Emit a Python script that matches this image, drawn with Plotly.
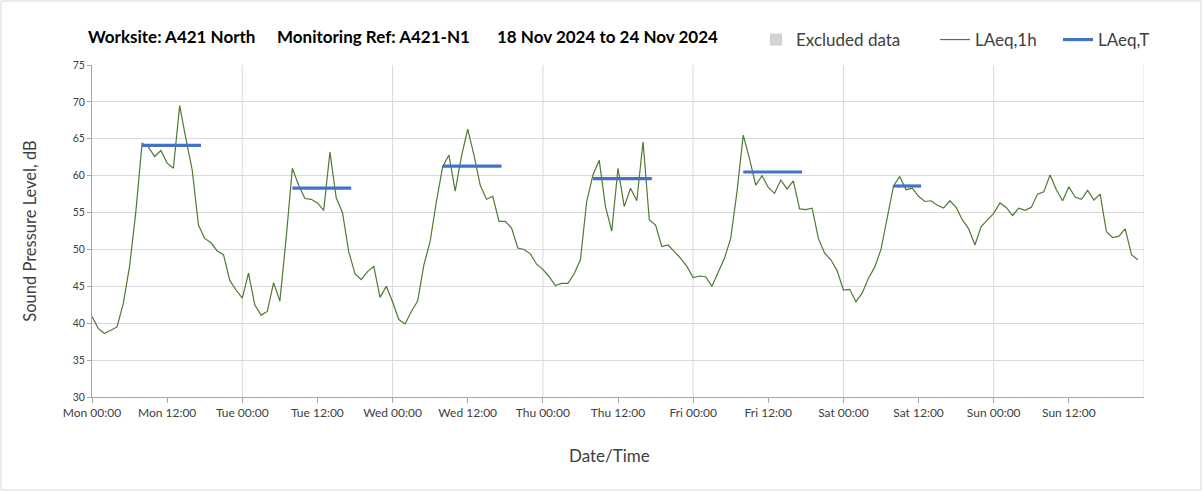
import plotly.graph_objects as go

# ---- data ----
days = ["Mon", "Tue", "Wed", "Thu", "Fri", "Sat", "Sun"]
times = ["00:00", "12:00"]

hours = list(range(168))  # hours since Mon 00:00
laeq_1h = [
    40.9, 39.3, 38.6, 39.0, 39.5, 42.7, 47.7, 55.1, 64.4, 63.9, 62.6, 63.4,
    61.7, 61.0, 69.5, 65.0, 60.8, 53.3, 51.5, 50.9, 49.8, 49.3, 45.8, 44.5,
    43.4, 46.8, 42.5, 41.1, 41.6, 45.5, 43.0, 51.5, 61.0, 58.7, 56.9, 56.8,
    56.3, 55.3, 63.2, 57.0, 55.0, 49.7, 46.7, 45.9, 47.0, 47.7, 43.5, 45.0,
    42.9, 40.5, 39.9, 41.6, 43.0, 47.9, 51.1, 56.5, 61.2, 62.8, 57.9, 62.6,
    66.3, 62.8, 58.7, 56.8, 57.2, 53.8, 53.8, 52.9, 50.2, 50.0, 49.4, 48.0,
    47.3, 46.3, 45.1, 45.4, 45.4, 46.7, 48.6, 56.5, 60.1, 62.1, 55.8, 52.5,
    61.0, 55.8, 58.3, 56.6, 64.6, 54.0, 53.3, 50.4, 50.6, 49.7, 48.8, 47.7,
    46.2, 46.4, 46.3, 45.0, 46.8, 48.8, 51.5, 57.8, 65.5, 62.3, 58.7, 60.0,
    58.4, 57.6, 59.4, 58.2, 59.3, 55.5, 55.4, 55.6, 51.5, 49.5, 48.6, 47.1,
    44.5, 44.6, 42.9, 44.1, 46.1, 47.6, 50.0, 54.5, 58.6, 59.9, 58.1, 58.3,
    57.2, 56.5, 56.6, 56.0, 55.6, 56.6, 55.7, 54.0, 52.8, 50.6, 53.1, 54.0,
    54.9, 56.3, 55.7, 54.6, 55.6, 55.3, 55.7, 57.5, 57.8, 60.1, 58.1, 56.6,
    58.5, 57.1, 56.8, 58.0, 56.7, 57.5, 52.4, 51.6, 51.8, 52.8, 49.3, 48.6,
]

laeqT_start = [8, 32, 56, 80, 104, 128]
laeqT_end = [17.4, 41.4, 65.4, 89.4, 113.4, 132.4]
laeqT_value = [64.1, 58.3, 61.3, 59.6, 60.5, 58.6]

# ---- layout constants ----
W, H = 1203, 493
L, R, T, B = 92, 59, 65, 96
pw, ph = W - L - R, H - T - B
FONT = "Lato, 'Open Sans', sans-serif"
GREEN = "#4E7A34"
BLUE = "#4472C4"
GRID = "#D9D9D9"
AXIS = "#A6A6A6"
TXT = "#404040"


def px_x(p):
    return (p - L) / pw


def px_y(p):
    return (H - B - p) / ph


fig = go.Figure()

fig.add_trace(go.Scatter(
    x=[None], y=[None], mode="markers", name="Excluded data", legend="legend",
    marker=dict(symbol="square", size=12, color="#D3D3D3"),
))
fig.add_trace(go.Scatter(
    x=hours, y=laeq_1h, mode="lines", name="LAeq,1h", legend="legend2",
    line=dict(color=GREEN, width=1.2),
))

bx, by = [], []
for s, e, v in zip(laeqT_start, laeqT_end, laeqT_value):
    bx += [s, e, None]
    by += [v, v, None]
fig.add_trace(go.Scatter(
    x=bx, y=by, mode="lines", name="LAeq,T", legend="legend3",
    line=dict(color=BLUE, width=3.2),
))

tickvals = list(range(0, 168, 12))
ticktext = [f"{days[i // 2]} {times[i % 2]}" for i in range(14)]

# vertical day gridlines
for d in range(1, 8):
    fig.add_shape(type="line", xref="x", yref="paper", x0=d * 24, x1=d * 24,
                  y0=0, y1=1, line=dict(color=GRID, width=1), layer="below")

# outer border
fig.add_shape(type="rect", xref="paper", yref="paper",
              x0=px_x(1), x1=px_x(W - 2), y0=px_y(H - 3), y1=px_y(1),
              line=dict(color="#D9D9D9", width=1), layer="below")

# title pieces
titles = [("Worksite: A421 North", 88), ("Monitoring Ref: A421-N1", 277),
          ("18 Nov 2024 to 24 Nov 2024", 497)]
for txt, xp in titles:
    fig.add_annotation(text=f"<b>{txt}</b>", xref="paper", yref="paper",
                       x=px_x(xp - 2), y=px_y(36), xanchor="left", yanchor="middle",
                       showarrow=False, font=dict(family=FONT, size=17, color="#000000"))

leg_common = dict(orientation="h", xanchor="left", yanchor="middle",
                  font=dict(family=FONT, size=17, color=TXT), itemwidth=30,
                  bgcolor="rgba(0,0,0,0)", borderwidth=0)

fig.update_layout(
    width=W, height=H,
    margin=dict(l=L, r=R, t=T, b=B, pad=0),
    paper_bgcolor="white", plot_bgcolor="white",
    font=dict(family=FONT, color=TXT),
    showlegend=True,
    legend=dict(x=px_x(756), y=px_y(40), **leg_common),
    legend2=dict(x=px_x(935), y=px_y(40), **leg_common),
    legend3=dict(x=px_x(1058), y=px_y(40), **leg_common),
    xaxis=dict(
        range=[0, 168], tickmode="array", tickvals=tickvals, ticktext=ticktext,
        showgrid=False, zeroline=False, showline=True, linecolor=AXIS, linewidth=1,
        ticks="outside", ticklen=5, tickcolor=AXIS,
        tickfont=dict(family=FONT, size=12, color=TXT),
        title=dict(text="", font=dict(family=FONT, size=17, color=TXT)),
    ),
    yaxis=dict(
        range=[30, 75], dtick=5, tick0=30, showgrid=True, gridcolor=GRID, gridwidth=1,
        zeroline=False, showline=True, linecolor=AXIS, linewidth=1,
        ticks="outside", ticklen=4, tickcolor=AXIS,
        tickfont=dict(family=FONT, size=10.5, color=TXT),
        title=dict(text="Sound Pressure Level, dB", font=dict(family=FONT, size=16.5, color=TXT), standoff=31),
    ),
)

# x-axis title placed where the reference has it
fig.add_annotation(text="Date/Time", xref="paper", yref="paper",
                   x=px_x(609), y=px_y(455), xanchor="center", yanchor="middle",
                   showarrow=False, font=dict(family=FONT, size=17, color=TXT))

fig.write_html("out.html", post_script="document.body.style.margin='0';",
               config={"displayModeBar": False})
